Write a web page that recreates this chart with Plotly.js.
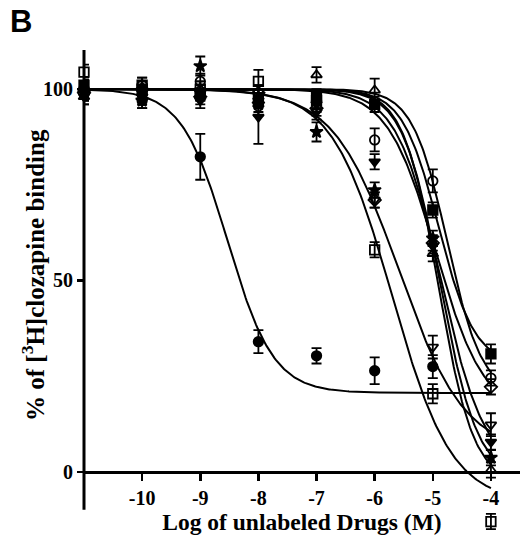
<!DOCTYPE html>
<html>
<head>
<meta charset="utf-8">
<script src="https://cdn.plot.ly/plotly-3.0.1.min.js"></script>
<style>html,body{margin:0;padding:0;background:#fff;} #chart{width:520px;height:538px;}</style>
</head>
<body>
<div id="chart"></div>
<script>
// Log concentrations (M)
var logConc = [-11, -10, -9, -8, -7, -6, -5, -4];

// Drug series (% of [3H]clozapine binding) and SEM
var drugA = [100, 97, 82.3, 34, 30.3, 26.4, 27.5];           // filled circle
var drugAErr = [2, 2, 6, 3, 2, 3.5, 3];
var drugB = [104.4, 101, 100, 102, 97, 58, 20.4, -13];       // open square
var drugBErr = [2, 2, 2, 3, 2, 2, 2.5, 2];
var drugC = [99, 98, 99, 95, 94, 71, 32.6, 12.3];            // open triangle down
var drugCErr = [2, 2, 2, 2, 2, 2, 3, 3];
var drugD = [101, 100, 99, 97, 98, 96, 68.4, 30.8];          // filled square
var drugDErr = [2, 2, 2, 2, 2, 2, 2, 2.5];
var drugE = [100, 101, 102, 99, 97, 86.7, 76, 24.5];         // open circle
var drugEErr = [2, 2, 2, 2, 2, 3, 3, 2];
var drugF = [99, 100, 98, 99, 95, 71, 59.8, 22.2];           // open diamond
var drugFErr = [2, 2, 2, 2, 2, 2, 2, 2];
var drugG = [98, 99, 97, 92.7, 96, 81, 59, 7.8];             // filled triangle down
var drugGErr = [2, 2, 2, 7, 2, 2, 2, 2];
var drugH = [99, 97, 106, 96, 88.8, 73.6, 61, 3.7];          // filled star
var drugHErr = [2, 2, 2.5, 2, 2.5, 2, 2, 2];
var drugI = [98, 99, 100, 98, 103.7, 99.7, 57, 0.5];         // open triangle up
var drugIErr = [2, 2, 2, 2, 2, 3, 2, 2];

// Fitted sigmoid parameters: [top, bottom, logIC50, hill]
var fitA = [100, 20.6, -8.53, 1.1];
var fitB = [100, -8, -5.7, 0.85];
var fitC = [100, 5, -5.58, 0.77];
var fitD = [100, 28, -4.9, 1.4];
var fitE = [100, 20, -4.75, 1.45];
var fitF = [100, 15, -4.95, 1.05];
var fitG = [100, 0, -4.86, 1.15];
var fitH = [100, -2, -4.87, 1.35];
var fitI = [100, -3, -4.9, 1.45];

var tickVals = [-10, -9, -8, -7, -6, -5, -4];
var tickText = ['-10', '-9', '-8', '-7', '-6', '-5', '-4'];

var series = [
  [drugA, drugAErr, fitA, 'circle'],
  [drugB, drugBErr, fitB, 'square-open'],
  [drugC, drugCErr, fitC, 'triangle-down-open'],
  [drugD, drugDErr, fitD, 'square'],
  [drugE, drugEErr, fitE, 'circle-open'],
  [drugF, drugFErr, fitF, 'diamond-open'],
  [drugG, drugGErr, fitG, 'triangle-down'],
  [drugH, drugHErr, fitH, 'star'],
  [drugI, drugIErr, fitI, 'triangle-up-open']
];

function sigmoid(p, x) {
  return p[1] + (p[0] - p[1]) / (1 + Math.pow(10, (x - p[2]) * p[3]));
}

var traces = [];
series.forEach(function (s) {
  var cx = [], cy = [];
  for (var x = -11; x <= -4.0001; x += 0.02) { cx.push(x); cy.push(sigmoid(s[2], x)); }
  cx.push(-4); cy.push(sigmoid(s[2], -4));
  traces.push({x: cx, y: cy, mode: 'lines', line: {color: '#000', width: 2}, hoverinfo: 'skip', showlegend: false});
});
series.forEach(function (s) {
  traces.push({
    x: logConc.slice(0, s[0].length), y: s[0], mode: 'markers', showlegend: false, cliponaxis: false,
    marker: {symbol: s[3], size: 9.5, color: '#000', line: {color: '#000', width: 1.8}},
    error_y: {type: 'data', array: s[1], visible: true, color: '#000', thickness: 1.8, width: 5}
  });
});

var yMin = -15.2, yMax = 110.2, yAxisBottom = -9.9;
var plotH = 538 - 50 - 8;
var serif = '"Liberation Serif", "Times New Roman", serif';
var layout = {
  width: 520, height: 538,
  margin: {l: 84, r: 0, t: 50, b: 8},
  paper_bgcolor: '#fff', plot_bgcolor: '#fff',
  font: {family: serif, color: '#000'},
  xaxis: {
    range: [-11, -3.5], anchor: 'free', position: (0 - yMin) / (yMax - yMin),
    showgrid: false, zeroline: false, showline: true, linecolor: '#000', linewidth: 3,
    ticks: 'outside', ticklen: 7, tickwidth: 2.5, tickcolor: '#000',
    tickvals: tickVals, ticktext: tickText,
    tickfont: {family: serif, size: 20, weight: 'bold', color: '#000'},
    title: {text: '<b>Log of unlabeled Drugs (M)</b>', font: {family: serif, size: 23.5, color: '#000'}, standoff: 3},
    automargin: false
  },
  yaxis: {
    range: [yMin, yMax], showgrid: false, zeroline: false, showline: false,
    ticks: 'outside', ticklen: 6, tickwidth: 2.5, tickcolor: '#000',
    tickvals: [0, 50, 100], ticktext: ['0', '50', '100'],
    tickfont: {family: serif, size: 20, weight: 'bold', color: '#000'},
    automargin: false
  },
  shapes: [{
    type: 'line', xref: 'paper', yref: 'y', x0: 0, x1: 0, y0: yAxisBottom, y1: yMax,
    line: {color: '#000', width: 3}, layer: 'above'
  }],
  annotations: [
    {
      text: '<b>B</b>', xref: 'paper', yref: 'paper', x: -76 / 436, y: (538 - 8 - 22) / plotH,
      xanchor: 'left', yanchor: 'middle', showarrow: false,
      font: {family: '"Liberation Sans", Arial, sans-serif', size: 31, color: '#000'}
    },
    {
      text: '<b>% of [<sup>3</sup>H]clozapine binding</b>', xref: 'paper', yref: 'paper',
      x: -51 / 436, y: (538 - 8 - 275) / plotH, xanchor: 'center', yanchor: 'middle', textangle: -90,
      showarrow: false, font: {family: serif, size: 25, color: '#000'}
    }
  ]
};

Plotly.newPlot('chart', traces, layout, {displayModeBar: false, staticPlot: true});
</script>
</body>
</html>
